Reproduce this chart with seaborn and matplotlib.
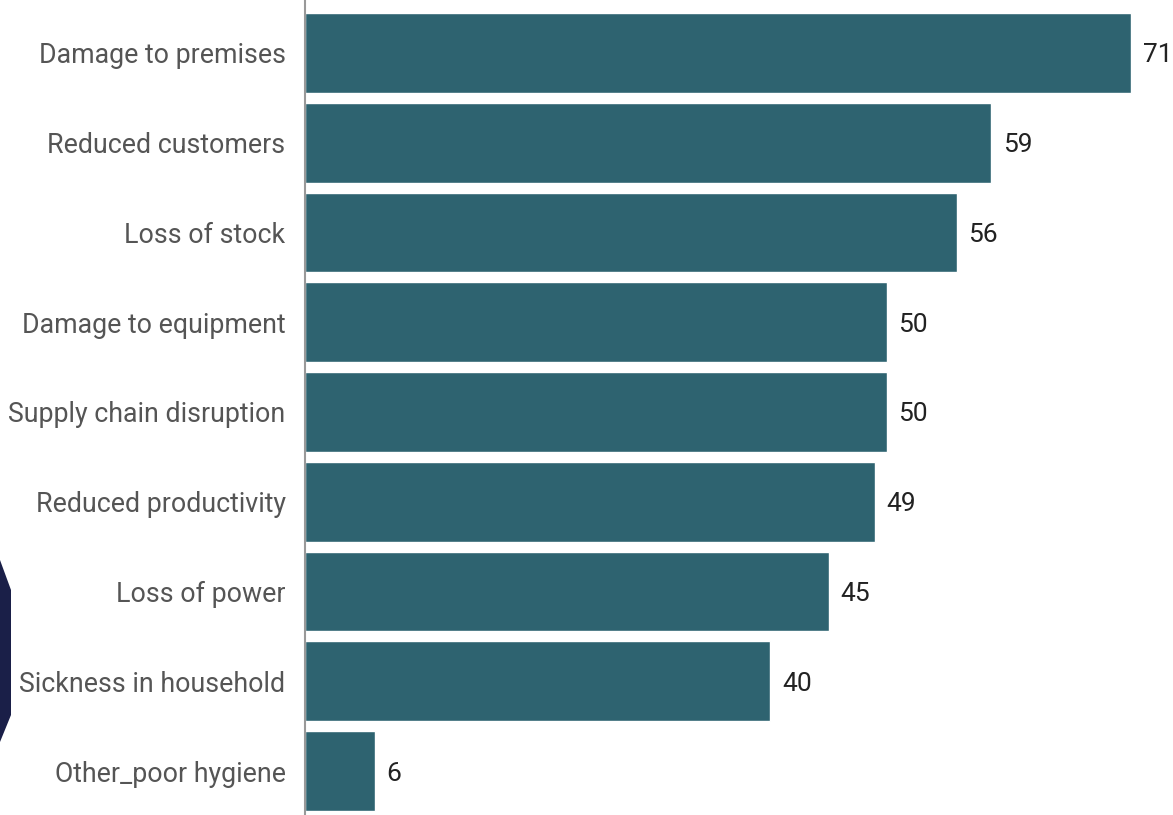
import matplotlib
matplotlib.use("Agg")
import matplotlib.pyplot as plt
import pandas as pd
import seaborn as sns
from matplotlib.patches import Polygon

categories = ["Damage to premises", "Reduced customers", "Loss of stock",
              "Damage to equipment", "Supply chain disruption",
              "Reduced productivity", "Loss of power",
              "Sickness in household", "Other_poor hygiene"]
values = [71, 59, 56, 50, 50, 49, 45, 40, 6]

df = pd.DataFrame({"impact": categories, "count": values})

sns.set_style("white")
plt.rcParams["font.family"] = ["Roboto", "DejaVu Sans"]

fig = plt.figure(figsize=(11.73, 8.15), dpi=100)
ax = fig.add_axes([305 / 1173, 0, 1 - 305 / 1173, 1])

sns.barplot(data=df, x="count", y="impact", color="#2e6370",
            saturation=1, width=0.89, ax=ax)

for i, v in enumerate(values):
    ax.text(v + 1.0, i, str(v), va="center_baseline", ha="left",
            fontsize=19, color="#222222")

ax.set_xlim(0, 74.6)
ax.set_ylim(8.49, -0.59)
ax.set_xlabel("")
ax.set_ylabel("")
ax.set_xticks([])
ax.tick_params(axis="y", length=0, pad=14, labelsize=19.3, labelcolor="#555555")
for side in ["top", "right", "bottom"]:
    ax.spines[side].set_visible(False)
ax.spines["left"].set_color("#999999")
ax.spines["left"].set_linewidth(1.5)

# dark shape cut off at the left edge
shape = Polygon([(0, 815 - 560), (11, 815 - 590), (11, 815 - 715), (0, 815 - 742)],
                closed=True, transform=None, facecolor="#1a1f48", edgecolor="none")
fig.patches.append(shape)

fig.savefig("out.png", dpi=100)
